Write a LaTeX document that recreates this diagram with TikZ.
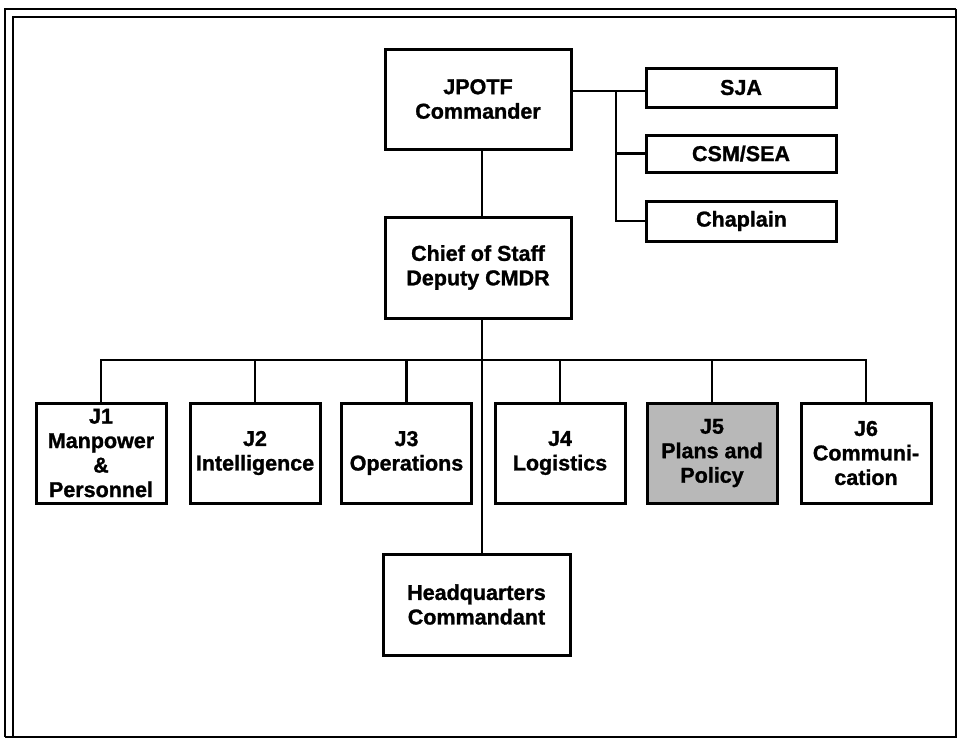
\documentclass[tikz,border=0pt]{standalone}
\usepackage{fontspec}
\setmainfont{Liberation Sans}
\newfontfamily\boxfont[FakeBold=1.2]{Liberation Sans Bold}
\begin{document}
\begin{tikzpicture}[x=1pt,y=-1pt,
  box/.style={draw=black, line width=3pt, fill=white, rectangle, inner sep=2pt,
    align=center, font=\fontsize{21.5}{24.5}\boxfont},
  jbox/.style={box, minimum width=130pt, minimum height=100pt},
  sbox/.style={box, minimum width=190pt, minimum height=39pt},
  conn/.style={draw=black, line width=2.5pt},
  frame/.style={draw=black, line width=1.6pt}]
\useasboundingbox (0,0) rectangle (957,740);
% frame
\draw[frame] (5,737) -- (5,9) -- (956,9);
\draw[frame] (13,737) -- (13,17) -- (956,17);
\draw[frame] (5,737) -- (956,737) -- (956,9);
% coordinates
\coordinate (spine) at (482,0);
\coordinate (bus) at (0,360);
\coordinate (sb) at (616,91);
% nodes
\node[box, minimum width=186pt, minimum height=100pt] (jp) at (478,99) {JPOTF\\Commander};
\node[box, minimum width=186pt, minimum height=101pt] (cs) at (478,267.5) {Chief of Staff\\Deputy CMDR};
\node[box, minimum width=187pt, minimum height=101pt] (hq) at (476.5,604.5) {Headquarters\\Commandant};
\node[sbox] (sja) at (741,87.5) {SJA};
\node[sbox, minimum height=37pt] (csm) at (741,153.5) {CSM/SEA};
\node[sbox, minimum height=40pt] (chap) at (741.5,221) {Chaplain};
\node[jbox] (j1) at (101,453) {J1\\Manpower\\\&\\Personnel};
\node[jbox] (j2) at (255,453) {J2\\Intelligence};
\node[jbox] (j3) at (406.5,453) {J3\\Operations};
\node[jbox] (j4) at (560,453) {J4\\Logistics};
\node[jbox, fill={rgb,255:red,184;green,184;blue,184}] (j5) at (712,453) {J5\\Plans and\\Policy};
\node[jbox] (j6) at (866,453) {J6\\Communi-\\cation};
% connectors
\draw[conn] (jp.south -| spine) -- (cs.north -| spine);
\draw[conn] (cs.south -| spine) -- (hq.north -| spine);
\draw[conn] (j1.north) -- (j1.north |- bus) -- (j6.north |- bus) -- (j6.north);
\draw[conn] (j2.north) -- (j2.north |- bus);
\draw[conn] (j3.north) -- (j3.north |- bus);
\draw[conn] (j4.north) -- (j4.north |- bus);
\draw[conn] (j5.north) -- (j5.north |- bus);
\draw[conn] (sb -| jp.east) -- (sb -| sja.west);
\draw[conn] (sb) |- (chap.west);
\draw[conn] (sb |- csm.west) -- (csm.west);
\end{tikzpicture}
\end{document}
